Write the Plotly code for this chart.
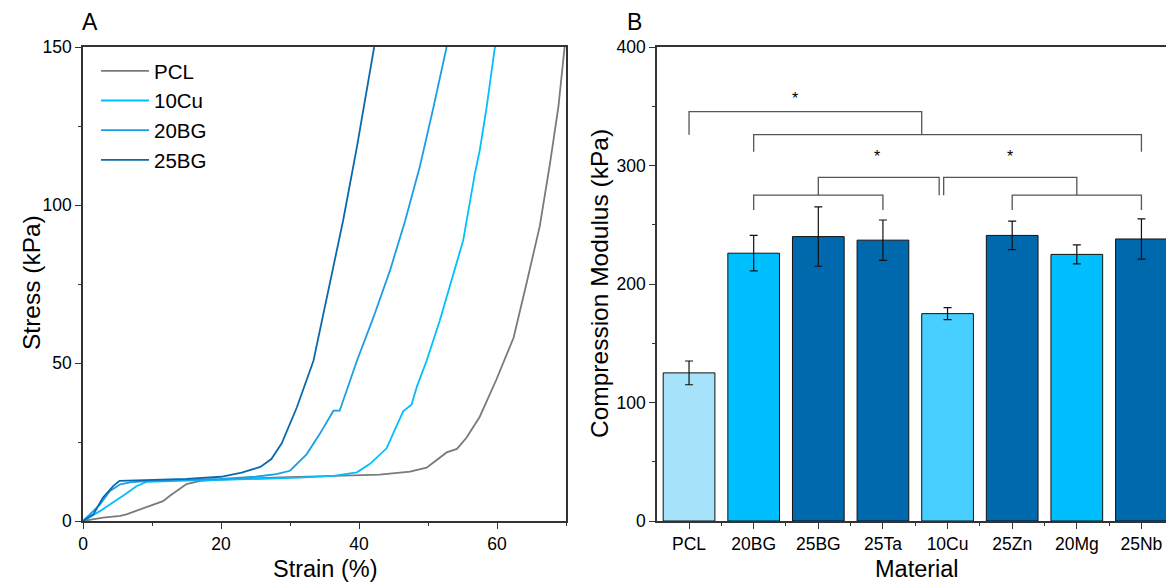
import plotly.graph_objects as go

# ---------------- Panel A data (stress-strain curves) ----------------
pcl_strain = [0, 2.9, 5.4, 6.3, 9.7, 11.6, 12.6, 15.0, 17.0, 20, 28.6, 35, 43.0, 47.4, 49.8,
              52.7, 54.2, 55.6, 57.5, 59.9, 62.4, 64.3, 66.2, 67.7, 68.9, 69.8]
pcl_stress = [0, 1.1, 1.6, 2.1, 4.8, 6.3, 8.0, 11.7, 12.7, 13.1, 13.8, 14.2, 14.7, 15.6, 16.9,
              21.7, 22.8, 26.4, 33, 44.7, 58, 75.4, 93.3, 113.4, 131.1, 150]

cu10_strain = [0, 2.5, 5.8, 7.8, 9.2, 12, 15, 20, 25, 31.4, 36.3, 39.7, 41.6, 44.0, 45.4, 46.4,
               47.6, 48.4, 49.8, 51.7, 55.1, 56.8, 57.5, 58.5, 59.7]
cu10_stress = [0, 3.2, 8.0, 11.1, 12.4, 12.7, 12.8, 13.0, 13.3, 13.7, 14.3, 15.4, 18.1, 23, 29.9, 34.7,
               36.8, 42.6, 50.7, 63.4, 88.8, 110, 117.3, 131, 150]

bg20_strain = [0, 2.5, 3.9, 5.4, 6.8, 10, 15, 20, 25, 28, 30, 32.4, 34.3, 36.3, 37.2, 39.7,
               42.1, 44.5, 46.7, 48.8, 50.8, 52.7]
bg20_stress = [0, 5.3, 9.5, 11.6, 12.2, 12.8, 13.0, 13.3, 14.0, 14.8, 15.9, 21.1, 27.5, 34.9, 34.9, 50.7,
               64.5, 79.3, 95.1, 112, 131, 150]

bg25_strain = [0, 1.5, 2.9, 4.4, 5.3, 10, 15, 20, 23, 25.7, 27.3, 28.8, 31.0, 33.4, 35.3, 37.7,
               39.7, 41.1, 42.2]
bg25_stress = [0, 2.1, 7.4, 11.1, 12.7, 13.0, 13.3, 14.0, 15.3, 17.1, 19.6, 24.6, 36.0, 50.7, 70.8, 95.1,
               118.4, 136.4, 150]

curve_names = ["PCL", "10Cu", "20BG", "25BG"]
curve_colors = ["#7a7a7a", "#00bfff", "#1a9fe6", "#0a69ad"]

# ---------------- Panel B data (compression modulus) ----------------
materials = ["PCL", "20BG", "25BG", "25Ta", "10Cu", "25Zn", "20Mg", "25Nb"]
modulus = [125, 226, 240, 237, 175, 241, 225, 238]
modulus_err = [10, 15, 25, 17, 5, 12, 8, 17]
bar_colors = ["#a6e3fb", "#00bfff", "#0068ad", "#0068ad", "#47cfff", "#0068ad", "#00bfff", "#0068ad"]

# significance brackets: (x_start, x_end, y_top, y_leg_bottom_left, y_leg_bottom_right)
brackets = [
    (0, 3.6, 345.5, 326, 326),
    (1, 7, 326, 311.5, 311.5),
    (2, 3.87, 290, 275, 275),
    (1, 3, 275, 262.5, 262.5),
    (3.94, 6, 290, 275, 275),
    (5, 7, 275, 262.5, 262.5),
]
stars_x = [1.64, 2.91, 4.96]
stars_y = [356.5, 307.5, 307.5]

FONT = "Liberation Sans, Arial, sans-serif"
AXC = "#333333"
W, H = 1166, 586

fig = go.Figure()

curves = [(pcl_strain, pcl_stress), (cu10_strain, cu10_stress),
          (bg20_strain, bg20_stress), (bg25_strain, bg25_stress)]
for (sx, sy), name, col in zip(curves, curve_names, curve_colors):
    fig.add_trace(go.Scatter(x=sx, y=sy, mode="lines", name=name,
                             line=dict(color=col, width=1.8), xaxis="x", yaxis="y"))

xpos = list(range(len(materials)))
fig.add_trace(go.Bar(x=xpos, y=modulus, width=0.8,
                     marker=dict(color=bar_colors, line=dict(color="#111111", width=1)),
                     error_y=dict(type="data", array=modulus_err, color="#111111",
                                  thickness=1.2, width=4),
                     showlegend=False, xaxis="x2", yaxis="y2"))

shapes = []
for x0, x1, yt, yl, yr in brackets:
    shapes.append(dict(type="path", xref="x2", yref="y2",
                       path=f"M {x0},{yl} L {x0},{yt} L {x1},{yt} L {x1},{yr}",
                       line=dict(color="#555555", width=1.3)))


def ann(text, px, py, size, angle=0):
    return dict(text=text, x=px / W, y=1 - py / H, xref="paper", yref="paper", textangle=angle,
                showarrow=False, font=dict(size=size, family=FONT, color="#000"),
                xanchor="center", yanchor="middle")


annotations = [
    ann("A", 90, 22, 23),
    ann("B", 634, 22, 23),
    ann("Strain (%)", 325, 569, 23.5),
    ann("Material", 917, 569, 23.5),
    ann("Stress (kPa)", 31, 283, 24.5, -90),
    ann("Compression Modulus (kPa)", 599, 284, 24.5, -90),
]
for sx, sy in zip(stars_x, stars_y):
    annotations.append(dict(text="*", x=sx, y=sy, xref="x2", yref="y2", showarrow=False,
                            font=dict(size=16, family=FONT, color="#000"),
                            xanchor="center", yanchor="middle"))

ydom = [(H - 521) / H, (H - 47) / H]
tickfont = dict(size=17.5, family=FONT, color="#000")

common = dict(ticks="outside", ticklen=6, tickwidth=1.3, tickcolor=AXC,
              showline=True, linecolor=AXC, linewidth=1.5,
              showgrid=False, zeroline=False, tickfont=tickfont, automargin=False)
minor_common = dict(ticks="outside", ticklen=3, tickcolor=AXC, tickwidth=1.3)

fig.update_layout(
    width=W, height=H,
    margin=dict(l=0, r=0, t=0, b=0, autoexpand=False),
    paper_bgcolor="white", plot_bgcolor="white",
    font=dict(family=FONT, color="#000"),
    xaxis=dict(domain=[83 / W, 566 / W], range=[0, 70], anchor="y",
               tickvals=[0, 20, 40, 60], mirror=True,
               minor=dict(tickvals=[10, 30, 50, 70], **minor_common), **common),
    yaxis=dict(domain=ydom, range=[0, 150], anchor="x",
               tickvals=[0, 50, 100, 150], mirror=True,
               minor=dict(tickvals=[25, 75, 125], **minor_common), **common),
    xaxis2=dict(domain=[657 / W, 1.0], range=[-0.496, 7.38], anchor="y2",
                tickvals=xpos, ticktext=materials, mirror=True,
                minor=dict(tickvals=[i + 0.5 for i in xpos[:-1]], **minor_common), **common),
    yaxis2=dict(domain=ydom, range=[0, 400], anchor="x2",
                tickvals=[0, 100, 200, 300, 400],
                minor=dict(tickvals=[50, 150, 250, 350], **minor_common), **common),
    legend=dict(x=96 / W, y=1 - 51 / H, xanchor="left", yanchor="top",
                bgcolor="rgba(0,0,0,0)", font=dict(size=20.5, family=FONT, color="#000"),
                itemwidth=48, tracegroupgap=0),
    showlegend=True,
    shapes=shapes,
    annotations=annotations,
)

fig.write_html("out.html", post_script="document.body.style.margin='0';",
               config={"displayModeBar": False})
